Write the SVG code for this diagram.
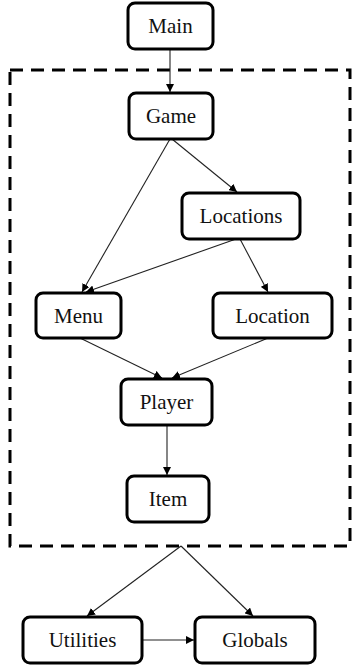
<svg xmlns="http://www.w3.org/2000/svg" width="352" height="667" viewBox="0 0 352 667">
  <style>
    .box { fill: #fff; stroke: #000; stroke-width: 3; }
    .lbl { font-family: "Liberation Serif", "Times New Roman", serif; font-size: 21px; fill: #111; text-anchor: middle; }
    .edge { stroke: #222; stroke-width: 1.1; fill: none; marker-end: url(#arrow); }
    .group { fill: none; stroke: #000; stroke-width: 3; stroke-dasharray: 13 8; }
  </style>
  <defs>
    <marker id="arrow" viewBox="0 0 10 10" refX="10" refY="5" markerWidth="8" markerHeight="8" markerUnits="userSpaceOnUse" orient="auto">
      <path d="M0,0 L10,5 L0,10 z" fill="#000"/>
    </marker>
  </defs>

  <!-- dashed package boundary -->
  <rect class="group" x="10" y="70" width="340" height="476"/>

  <g id="connectors">
    <line class="edge" x1="170" y1="49" x2="170" y2="92"/>
    <line class="edge" x1="170" y1="139" x2="82" y2="292"/>
    <line class="edge" x1="172" y1="139" x2="237" y2="192"/>
    <line class="edge" x1="236" y1="239" x2="86" y2="292"/>
    <line class="edge" x1="240" y1="239" x2="268" y2="292"/>
    <line class="edge" x1="80" y1="338" x2="162" y2="378"/>
    <line class="edge" x1="268" y1="338" x2="172" y2="378"/>
    <line class="edge" x1="167" y1="425" x2="167" y2="475"/>
    <line class="edge" x1="181" y1="546" x2="87" y2="616"/>
    <line class="edge" x1="181" y1="546" x2="253" y2="616"/>
    <line class="edge" x1="142" y1="640" x2="194" y2="640"/>
  </g>

  <g id="main">
    <rect class="box" x="128" y="3" width="85" height="46" rx="7"/>
    <text class="lbl" x="170.5" y="33">Main</text>
  </g>
  <g id="game">
    <rect class="box" x="129" y="93" width="84" height="46" rx="7"/>
    <text class="lbl" x="171" y="123">Game</text>
  </g>
  <g id="locations">
    <rect class="box" x="182" y="193" width="118" height="46" rx="7"/>
    <text class="lbl" x="241" y="223">Locations</text>
  </g>
  <g id="menu">
    <rect class="box" x="36" y="293" width="85" height="45" rx="7"/>
    <text class="lbl" x="78.5" y="323">Menu</text>
  </g>
  <g id="location">
    <rect class="box" x="213" y="293" width="119" height="45" rx="7"/>
    <text class="lbl" x="272.5" y="323">Location</text>
  </g>
  <g id="player">
    <rect class="box" x="121" y="379" width="91" height="46" rx="7"/>
    <text class="lbl" x="166.5" y="409">Player</text>
  </g>
  <g id="item">
    <rect class="box" x="127" y="476" width="82" height="46" rx="7"/>
    <text class="lbl" x="168" y="506">Item</text>
  </g>
  <g id="utilities">
    <rect class="box" x="23" y="617" width="119" height="46" rx="7"/>
    <text class="lbl" x="82.5" y="647">Utilities</text>
  </g>
  <g id="globals">
    <rect class="box" x="195" y="617" width="120" height="46" rx="7"/>
    <text class="lbl" x="255" y="647">Globals</text>
  </g>
</svg>
